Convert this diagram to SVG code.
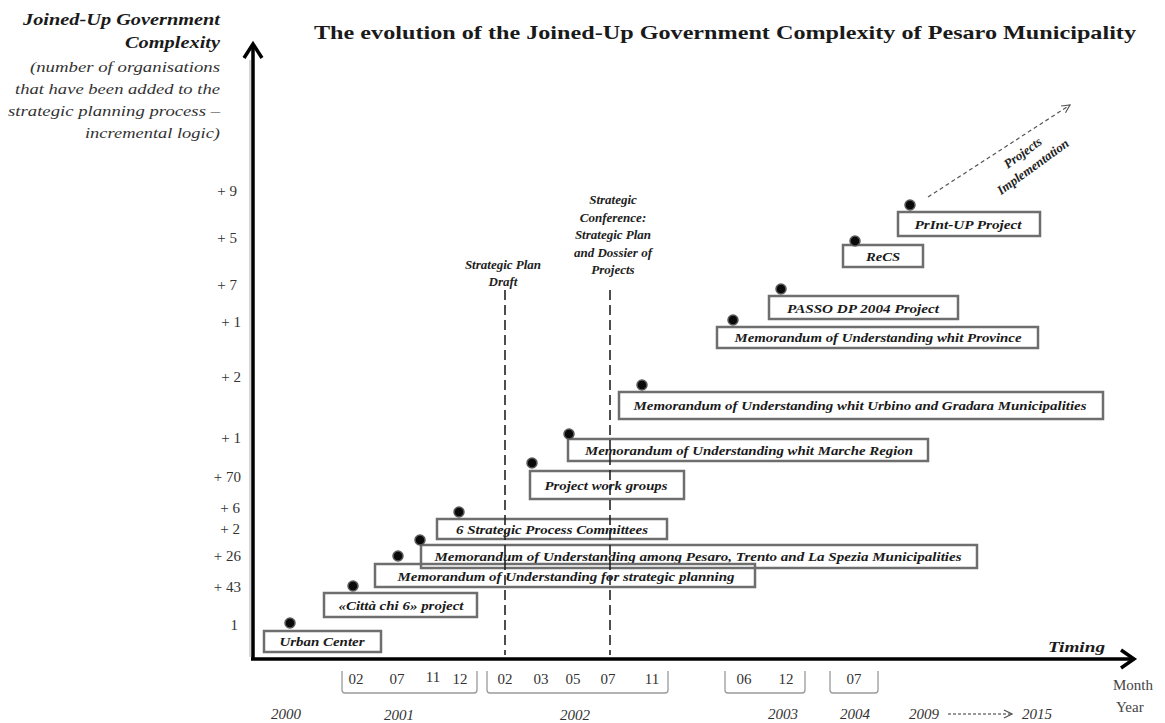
<svg xmlns="http://www.w3.org/2000/svg" width="1165" height="723" viewBox="0 0 1165 723">
<defs>
<style>
.box{fill:none;stroke:#6e6e6e;stroke-width:2.5}
.lbl{font-family:"Liberation Serif","Times New Roman",serif;font-style:italic;font-weight:bold;font-size:13.5px;fill:#1a1a1a;text-anchor:middle}
.dot{fill:#0a0a0a;stroke:#5a5a5a;stroke-width:1.5}
.ytk{font-family:"Liberation Serif","Times New Roman",serif;font-size:15px;fill:#333;text-anchor:end}
.mon{font-family:"Liberation Serif","Times New Roman",serif;font-size:15px;fill:#333;text-anchor:middle}
.yr{font-family:"Liberation Serif","Times New Roman",serif;font-style:italic;font-size:15px;fill:#333;text-anchor:middle}
.brk{fill:none;stroke:#9a9a9a;stroke-width:1.3}
.vdash{stroke:#222;stroke-width:1.6;stroke-dasharray:10 5}
.axis{stroke:#000;stroke-width:3.5;fill:none}
.ann{font-family:"Liberation Serif","Times New Roman",serif;font-style:italic;font-weight:bold;font-size:13px;fill:#222;text-anchor:middle}
.side{font-family:"Liberation Serif","Times New Roman",serif;font-style:italic;font-size:15px;fill:#333;text-anchor:end}
</style>
<marker id="open" viewBox="0 0 10 10" refX="9" refY="5" markerWidth="10" markerHeight="10" markerUnits="userSpaceOnUse" orient="auto">
<path d="M1,1 L9,5 L1,9" fill="none" stroke="#555" stroke-width="1.2"/>
</marker>
</defs>
<rect width="1165" height="723" fill="#fff"/>

<!-- titles -->
<g id="title">
<text x="314" y="39" font-family="'Liberation Serif','Times New Roman',serif" font-weight="bold" font-size="19" fill="#1a1a1a" textLength="822" lengthAdjust="spacingAndGlyphs">The evolution of the Joined-Up Government Complexity of Pesaro Municipality</text>
</g>
<g id="yaxis-title">
<text x="220" y="25" font-family="'Liberation Serif','Times New Roman',serif" font-style="italic" font-weight="bold" font-size="16" fill="#1a1a1a" text-anchor="end" textLength="197" lengthAdjust="spacingAndGlyphs">Joined-Up Government</text>
<text x="220" y="48" font-family="'Liberation Serif','Times New Roman',serif" font-style="italic" font-weight="bold" font-size="16" fill="#1a1a1a" text-anchor="end" textLength="95" lengthAdjust="spacingAndGlyphs">Complexity</text>
<text class="side" x="220" y="72" textLength="190" lengthAdjust="spacingAndGlyphs">(number of organisations</text>
<text class="side" x="220" y="94" textLength="205" lengthAdjust="spacingAndGlyphs">that have been added to the</text>
<text class="side" x="220" y="116" textLength="212" lengthAdjust="spacingAndGlyphs">strategic planning process –</text>
<text class="side" x="220" y="138" textLength="135" lengthAdjust="spacingAndGlyphs">incremental logic)</text>
</g>

<!-- axes -->
<g id="axes">
<line x1="250" y1="60" x2="250" y2="657" stroke="#bbb" stroke-width="1.2"/>
<line x1="253" y1="659" x2="253" y2="46" class="axis"/>
<polyline points="244,58 253,44 262,58" class="axis"/>
<line x1="251" y1="659" x2="1132" y2="659" class="axis"/>
<polyline points="1121,650 1134,659 1121,668" class="axis"/>
<text x="1048" y="652" font-family="'Liberation Serif','Times New Roman',serif" font-style="italic" font-weight="bold" font-size="15" fill="#1a1a1a" textLength="57" lengthAdjust="spacingAndGlyphs">Timing</text>
<text x="1113" y="690" font-family="'Liberation Serif','Times New Roman',serif" font-size="15" fill="#444">Month</text>
<text x="1116" y="712" font-family="'Liberation Serif','Times New Roman',serif" font-size="15" fill="#444">Year</text>
</g>

<!-- y tick labels -->
<g id="yticks">
<text class="ytk" x="237" y="196">+ 9</text>
<text class="ytk" x="237" y="243">+ 5</text>
<text class="ytk" x="237" y="290">+ 7</text>
<text class="ytk" x="241" y="327">+ 1</text>
<text class="ytk" x="241" y="382">+ 2</text>
<text class="ytk" x="241" y="443">+ 1</text>
<text class="ytk" x="241" y="482">+ 70</text>
<text class="ytk" x="240" y="513">+ 6</text>
<text class="ytk" x="240" y="534">+ 2</text>
<text class="ytk" x="241" y="561">+ 26</text>
<text class="ytk" x="241" y="592">+ 43</text>
<text class="ytk" x="238" y="630">1</text>
</g>

<!-- x time scale -->
<g id="xticks">
<path class="brk" d="M342,671 V690 Q342,693 345,693 H474 Q477,693 477,690 V671"/>
<path class="brk" d="M487,671 V690 Q487,693 490,693 H665 Q668,693 668,690 V671"/>
<path class="brk" d="M725,671 V690 Q725,693 728,693 H802 Q805,693 805,690 V671"/>
<path class="brk" d="M830,671 V690 Q830,693 833,693 H875 Q878,693 878,690 V671"/>
<text class="mon" x="356" y="684">02</text>
<text class="mon" x="397" y="684">07</text>
<text class="mon" x="433" y="682">11</text>
<text class="mon" x="460" y="684">12</text>
<text class="mon" x="505" y="684">02</text>
<text class="mon" x="541" y="684">03</text>
<text class="mon" x="573" y="684">05</text>
<text class="mon" x="608" y="684">07</text>
<text class="mon" x="652" y="684">11</text>
<text class="mon" x="744" y="684">06</text>
<text class="mon" x="786" y="684">12</text>
<text class="mon" x="854" y="684">07</text>
<text class="yr" x="286" y="719">2000</text>
<text class="yr" x="399" y="720">2001</text>
<text class="yr" x="575" y="720">2002</text>
<text class="yr" x="783" y="719">2003</text>
<text class="yr" x="855" y="719">2004</text>
<text class="yr" x="924" y="719">2009</text>
<text class="yr" x="1037" y="719">2015</text>
<line x1="948" y1="714" x2="1012" y2="714" stroke="#333" stroke-width="1.2" stroke-dasharray="3 2" marker-end="url(#open)"/>
</g>

<!-- milestones -->
<g id="milestone-draft">
<text class="ann" x="503" y="269">Strategic Plan</text>
<text class="ann" x="503" y="286">Draft</text>
</g>
<g id="milestone-conference">
<text class="ann" x="613" y="204">Strategic</text>
<text class="ann" x="613" y="222">Conference:</text>
<text class="ann" x="613" y="239">Strategic Plan</text>
<text class="ann" x="613" y="257">and Dossier of</text>
<text class="ann" x="613" y="274">Projects</text>
</g>

<!-- nodes -->
<g id="n-urban-center">
<rect class="box" x="264" y="631" width="117" height="21"/>
<text class="lbl" x="322" y="646" textLength="85" lengthAdjust="spacingAndGlyphs">Urban Center</text>
<circle class="dot" cx="290" cy="623" r="5"/>
</g>
<g id="n-citta">
<rect class="box" x="324" y="593" width="153" height="24"/>
<text class="lbl" x="401" y="610" textLength="125" lengthAdjust="spacingAndGlyphs">«Città chi 6» project</text>
<circle class="dot" cx="353" cy="586" r="5"/>
</g>
<g id="n-mou-among">
<rect class="box" x="421" y="545" width="556" height="23"/>
<text class="lbl" x="698" y="561" textLength="527" lengthAdjust="spacingAndGlyphs">Memorandum of Understanding among Pesaro, Trento and La Spezia  Municipalities</text>
<circle class="dot" cx="420" cy="540" r="5"/>
</g>
<g id="n-mou-strategic">
<rect class="box" x="375" y="564" width="380" height="23"/>
<text class="lbl" x="566" y="581" textLength="337" lengthAdjust="spacingAndGlyphs">Memorandum of Understanding for strategic planning</text>
<circle class="dot" cx="398" cy="556" r="5"/>
</g>
<g id="n-committees">
<rect class="box" x="437" y="519" width="230" height="20"/>
<text class="lbl" x="552" y="534" textLength="192" lengthAdjust="spacingAndGlyphs">6 Strategic Process Committees</text>
<circle class="dot" cx="459" cy="512" r="5"/>
</g>
<g id="n-work-groups">
<rect class="box" x="530" y="471" width="154" height="28"/>
<text class="lbl" x="606" y="490" textLength="123" lengthAdjust="spacingAndGlyphs">Project work groups</text>
<circle class="dot" cx="532" cy="463" r="5"/>
</g>
<g id="n-marche">
<rect class="box" x="568" y="439" width="360" height="22"/>
<text class="lbl" x="749" y="455" textLength="328" lengthAdjust="spacingAndGlyphs">Memorandum of Understanding whit Marche Region</text>
<circle class="dot" cx="569" cy="434" r="5"/>
</g>
<g id="n-urbino">
<rect class="box" x="619" y="392" width="484" height="27"/>
<text class="lbl" x="860" y="410" textLength="453" lengthAdjust="spacingAndGlyphs">Memorandum of Understanding whit Urbino and Gradara Municipalities</text>
<circle class="dot" cx="642" cy="385" r="5"/>
</g>
<g id="n-province">
<rect class="box" x="717" y="327" width="321" height="21"/>
<text class="lbl" x="878" y="342" textLength="287" lengthAdjust="spacingAndGlyphs">Memorandum of Understanding whit Province</text>
<circle class="dot" cx="733" cy="320" r="5"/>
</g>
<g id="n-passo">
<rect class="box" x="769" y="296" width="189" height="23"/>
<text class="lbl" x="863" y="313" textLength="152" lengthAdjust="spacingAndGlyphs">PASSO DP 2004 Project</text>
<circle class="dot" cx="781" cy="289" r="5"/>
</g>
<g id="n-recs">
<rect class="box" x="843" y="245" width="80" height="22"/>
<text class="lbl" x="883" y="261" textLength="34" lengthAdjust="spacingAndGlyphs">ReCS</text>
<circle class="dot" cx="855" cy="241" r="5"/>
</g>
<g id="n-printup">
<rect class="box" x="898" y="212" width="142" height="24"/>
<text class="lbl" x="968" y="229" textLength="107" lengthAdjust="spacingAndGlyphs">PrInt-UP Project</text>
<circle class="dot" cx="910" cy="205" r="5"/>
</g>

<!-- connectors -->
<g id="connectors">
<line class="vdash" x1="505" y1="290" x2="505" y2="655"/>
<line class="vdash" x1="610" y1="290" x2="610" y2="655"/>
<line x1="928" y1="197" x2="1070" y2="105" stroke="#555" stroke-width="1.2" stroke-dasharray="4 3" marker-end="url(#open)"/>
</g>
<g id="projects-implementation">
<g transform="translate(1023,153) rotate(-36)"><text class="ann" x="0" y="4" font-size="12.5">Projects</text></g>
<g transform="translate(1033,167) rotate(-36)"><text class="ann" x="0" y="4" font-size="12.5">Implementation</text></g>
</g>
</svg>
